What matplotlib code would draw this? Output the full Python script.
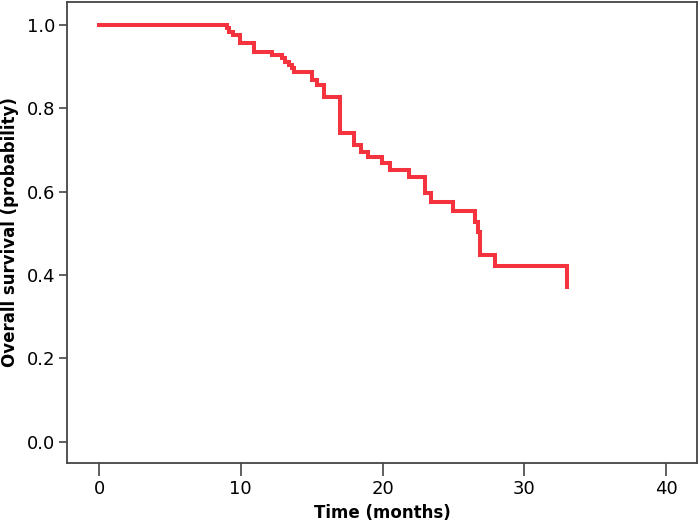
import matplotlib
matplotlib.use("Agg")
import matplotlib.pyplot as plt

# Kaplan-Meier step curve
times = [0, 9.0, 9.2, 9.45, 9.95, 10.9, 12.2, 12.9, 13.1, 13.4, 13.6, 13.75,
         15.0, 15.4, 15.9, 17.0, 18.0, 18.5, 19.0, 19.95, 20.5, 21.9,
         23.0, 23.4, 25.0, 26.5, 26.7, 26.9, 27.9, 33.0]
survival = [1.0, 0.992, 0.984, 0.976, 0.956, 0.936, 0.928, 0.920, 0.912, 0.904, 0.896, 0.888,
            0.868, 0.856, 0.828, 0.740, 0.712, 0.696, 0.684, 0.668, 0.652, 0.636,
            0.596, 0.574, 0.553, 0.528, 0.502, 0.448, 0.422, 0.371]

x_ticks = [0, 10, 20, 30, 40]
y_ticks = [0.0, 0.2, 0.4, 0.6, 0.8, 1.0]

fig = plt.figure(figsize=(7, 5.29), dpi=100)
ax = fig.add_axes([0.0953, 0.1242, 0.9008, 0.8726])

ax.plot(times, survival, drawstyle="steps-post", color="#f5333f", linewidth=2.9,
        solid_joinstyle="miter")

ax.set_xlim(-2.28, 42.2)
ax.set_ylim(-0.052, 1.056)
ax.set_xticks(x_ticks)
ax.set_yticks(y_ticks)
ax.set_yticklabels([f"{v:.1f}" for v in y_ticks])

for s in ax.spines.values():
    s.set_color("#444444")
    s.set_linewidth(1.3)

ax.tick_params(axis="x", length=9, width=1.2, color="#444444", labelsize=13, pad=3)
ax.tick_params(axis="y", length=6, width=1.2, color="#444444", labelsize=13, pad=2)

ax.set_xlabel("Time (months)", fontsize=12, fontweight="bold", labelpad=4)
ax.set_ylabel("Overall survival (probability)", fontsize=12, fontweight="bold", labelpad=6)

fig.savefig("out.png", dpi=100)
